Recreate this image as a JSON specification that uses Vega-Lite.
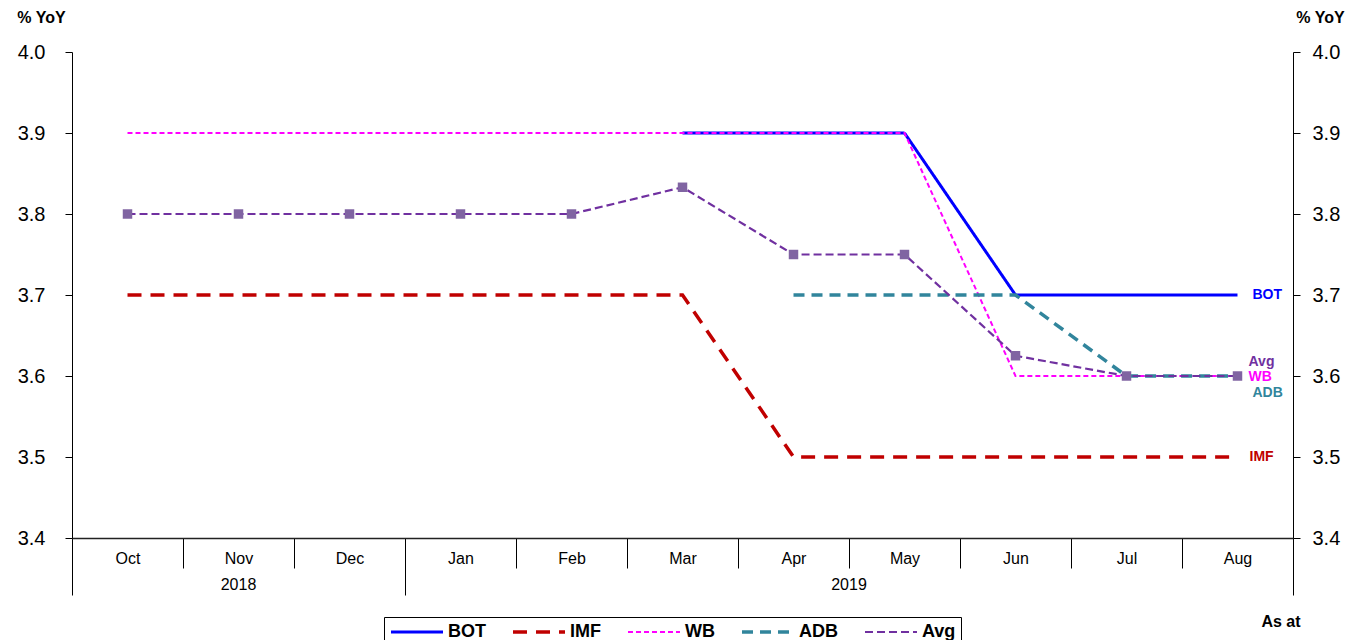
{
  "$schema": "https://vega.github.io/schema/vega-lite/v6.json",
  "autosize": {"type": "none"},
  "width": 1221,
  "height": 486,
  "padding": {"left": 72, "top": 52, "right": 72, "bottom": 102},
  "background": "white",
  "config": {"font": "Liberation Sans", "view": {"stroke": null}, "axis": {"grid": false}},
  "datasets": {
    "main": [
      {"series": "BOT", "month": "Mar", "value": 3.9},
      {"series": "BOT", "month": "Apr", "value": 3.9},
      {"series": "BOT", "month": "May", "value": 3.9},
      {"series": "BOT", "month": "Jun", "value": 3.7},
      {"series": "BOT", "month": "Jul", "value": 3.7},
      {"series": "BOT", "month": "Aug", "value": 3.7},
      {"series": "IMF", "month": "Oct", "value": 3.7},
      {"series": "IMF", "month": "Nov", "value": 3.7},
      {"series": "IMF", "month": "Dec", "value": 3.7},
      {"series": "IMF", "month": "Jan", "value": 3.7},
      {"series": "IMF", "month": "Feb", "value": 3.7},
      {"series": "IMF", "month": "Mar", "value": 3.7},
      {"series": "IMF", "month": "Apr", "value": 3.5},
      {"series": "IMF", "month": "May", "value": 3.5},
      {"series": "IMF", "month": "Jun", "value": 3.5},
      {"series": "IMF", "month": "Jul", "value": 3.5},
      {"series": "IMF", "month": "Aug", "value": 3.5},
      {"series": "WB", "month": "Oct", "value": 3.9},
      {"series": "WB", "month": "Nov", "value": 3.9},
      {"series": "WB", "month": "Dec", "value": 3.9},
      {"series": "WB", "month": "Jan", "value": 3.9},
      {"series": "WB", "month": "Feb", "value": 3.9},
      {"series": "WB", "month": "Mar", "value": 3.9},
      {"series": "WB", "month": "Apr", "value": 3.9},
      {"series": "WB", "month": "May", "value": 3.9},
      {"series": "WB", "month": "Jun", "value": 3.6},
      {"series": "WB", "month": "Jul", "value": 3.6},
      {"series": "WB", "month": "Aug", "value": 3.6},
      {"series": "ADB", "month": "Apr", "value": 3.7},
      {"series": "ADB", "month": "May", "value": 3.7},
      {"series": "ADB", "month": "Jun", "value": 3.7},
      {"series": "ADB", "month": "Jul", "value": 3.6},
      {"series": "ADB", "month": "Aug", "value": 3.6},
      {"series": "Avg", "month": "Oct", "value": 3.8},
      {"series": "Avg", "month": "Nov", "value": 3.8},
      {"series": "Avg", "month": "Dec", "value": 3.8},
      {"series": "Avg", "month": "Jan", "value": 3.8},
      {"series": "Avg", "month": "Feb", "value": 3.8},
      {"series": "Avg", "month": "Mar", "value": 3.833},
      {"series": "Avg", "month": "Apr", "value": 3.75},
      {"series": "Avg", "month": "May", "value": 3.75},
      {"series": "Avg", "month": "Jun", "value": 3.625},
      {"series": "Avg", "month": "Jul", "value": 3.6},
      {"series": "Avg", "month": "Aug", "value": 3.6}
    ]
  },
  "layer": [
    {
      "layer": [
        {
          "data": {"name": "main"},
          "mark": {"type": "line", "strokeCap": "butt"},
          "encoding": {
            "x": {
              "field": "month", "type": "ordinal", "bandPosition": 0.5,
              "scale": {"type": "band", "domain": ["Oct","Nov","Dec","Jan","Feb","Mar","Apr","May","Jun","Jul","Aug"], "paddingInner": 0, "paddingOuter": 0},
              "axis": {
                "title": null,
                "tickBand": "extent",
                "tickSize": {"condition": {"test": "datum.extra || datum.value === 'Dec' || datum.value === 'Aug'", "value": 57}, "value": 30},
                "tickColor": "#000",
                "tickWidth": 1,
                "domainColor": "#222",
                "domainWidth": 1.5,
                "labelFontSize": 16,
                "labelColor": "#000",
                "labelPadding": {"condition": {"test": "datum.value === 'Dec' || datum.value === 'Aug'", "value": -45}, "value": -18},
                "labelAngle": 0
              }
            },
            "y": {
              "field": "value", "type": "quantitative",
              "scale": {"domain": [3.4, 4.0], "nice": false, "zero": false},
              "axis": {
                "values": [3.4, 3.5, 3.6, 3.7, 3.8, 3.9, 4.0],
                "format": ".1f",
                "tickSize": 7,
                "tickColor": "#000",
                "domainColor": "#000",
                "labelFontSize": 20,
                "labelColor": "#000",
                "labelPadding": 20,
                "title": "% YoY",
                "titleAngle": 0,
                "titleX": -31,
                "titleY": -35,
                "titleAlign": "center",
                "titleBaseline": "middle",
                "titleFontSize": 16,
                "titleFontWeight": "bold",
                "titleColor": "#000"
              }
            },
            "color": {
              "field": "series", "type": "nominal",
              "scale": {"domain": ["BOT","IMF","WB","ADB","Avg"], "range": ["#0000FF","#C00000","#FF00FF","#31859C","#7030A0"]},
              "legend": {
                "orient": "none",
                "legendX": 312,
                "legendY": 565,
                "direction": "horizontal",
                "columns": 5,
                "title": null,
                "symbolType": "stroke",
                "symbolSize": 2704,
                "symbolStrokeWidth": 3,
                "clipHeight": 20,
                "padding": 5,
                "strokeColor": "#000",
                "columnPadding": 25,
                "labelOffset": 3,
                "labelFontSize": 18,
                "labelFontWeight": "bold",
                "labelColor": "#000"
              }
            },
            "strokeDash": {
              "field": "series", "type": "nominal",
              "scale": {"domain": ["BOT","IMF","WB","ADB","Avg"], "range": [[1,0],[14,9],[5,3],[11,7],[8,4]]}
            },
            "strokeWidth": {
              "field": "series", "type": "nominal",
              "scale": {"type": "ordinal", "domain": ["BOT","IMF","WB","ADB","Avg"], "range": [3, 3.5, 2, 3.5, 2.2]},
              "legend": null
            }
          }
        },
        {
          "data": {"name": "main"},
          "transform": [{"filter": "datum.series === 'Avg'"}],
          "mark": {"type": "square", "filled": true, "size": 90, "color": "#8064A2", "opacity": 1},
          "encoding": {
            "x": {"field": "month", "type": "ordinal", "bandPosition": 0.5},
            "y": {"field": "value", "type": "quantitative"}
          }
        },
        {
          "data": {"name": "main"},
          "transform": [{"filter": "datum.series === 'BOT' && datum.month === 'Aug'"}],
          "mark": {"type": "text", "align": "left", "baseline": "middle", "dx": 15, "dy": 0, "fontSize": 14, "fontWeight": "bold"},
          "encoding": {
            "x": {"field": "month", "type": "ordinal", "bandPosition": 0.5},
            "y": {"field": "value", "type": "quantitative"},
            "text": {"field": "series"},
            "color": {"field": "series", "type": "nominal", "legend": null}
          }
        },
        {
          "data": {"name": "main"},
          "transform": [{"filter": "datum.series === 'IMF' && datum.month === 'Aug'"}],
          "mark": {"type": "text", "align": "left", "baseline": "middle", "dx": 12, "dy": 0, "fontSize": 14, "fontWeight": "bold"},
          "encoding": {
            "x": {"field": "month", "type": "ordinal", "bandPosition": 0.5},
            "y": {"field": "value", "type": "quantitative"},
            "text": {"field": "series"},
            "color": {"field": "series", "type": "nominal", "legend": null}
          }
        },
        {
          "data": {"name": "main"},
          "transform": [{"filter": "datum.series === 'Avg' && datum.month === 'Aug'"}],
          "mark": {"type": "text", "align": "left", "baseline": "middle", "dx": 11, "dy": -14, "fontSize": 14, "fontWeight": "bold"},
          "encoding": {
            "x": {"field": "month", "type": "ordinal", "bandPosition": 0.5},
            "y": {"field": "value", "type": "quantitative"},
            "text": {"field": "series"},
            "color": {"field": "series", "type": "nominal", "legend": null}
          }
        },
        {
          "data": {"name": "main"},
          "transform": [{"filter": "datum.series === 'WB' && datum.month === 'Aug'"}],
          "mark": {"type": "text", "align": "left", "baseline": "middle", "dx": 11, "dy": 1, "fontSize": 14, "fontWeight": "bold"},
          "encoding": {
            "x": {"field": "month", "type": "ordinal", "bandPosition": 0.5},
            "y": {"field": "value", "type": "quantitative"},
            "text": {"field": "series"},
            "color": {"field": "series", "type": "nominal", "legend": null}
          }
        },
        {
          "data": {"name": "main"},
          "transform": [{"filter": "datum.series === 'ADB' && datum.month === 'Aug'"}],
          "mark": {"type": "text", "align": "left", "baseline": "middle", "dx": 15, "dy": 17, "fontSize": 14, "fontWeight": "bold"},
          "encoding": {
            "x": {"field": "month", "type": "ordinal", "bandPosition": 0.5},
            "y": {"field": "value", "type": "quantitative"},
            "text": {"field": "series"},
            "color": {"field": "series", "type": "nominal", "legend": null}
          }
        },
        {
          "data": {"values": [{"year": "2018", "month": "Nov"}]},
          "mark": {"type": "text", "align": "center", "baseline": "middle", "dy": 47, "fontSize": 16, "color": "#000"},
          "encoding": {
            "x": {"field": "month", "type": "ordinal", "bandPosition": 0.5},
            "y": {"datum": 3.4, "type": "quantitative"},
            "text": {"field": "year"}
          }
        },
        {
          "data": {"values": [{"year": "2019", "month": "May"}]},
          "mark": {"type": "text", "align": "center", "baseline": "middle", "dy": 47, "fontSize": 16, "color": "#000"},
          "encoding": {
            "x": {"field": "month", "type": "ordinal", "bandPosition": 0},
            "y": {"datum": 3.4, "type": "quantitative"},
            "text": {"field": "year"}
          }
        },
        {
          "data": {"values": [{"note": "As at", "month": "Aug"}]},
          "mark": {"type": "text", "align": "center", "baseline": "middle", "dx": -12, "dy": 84, "fontSize": 16, "fontWeight": "bold", "color": "#000"},
          "encoding": {
            "x": {"field": "month", "type": "ordinal", "bandPosition": 1},
            "y": {"datum": 3.4, "type": "quantitative"},
            "text": {"field": "note"}
          }
        }
      ]
    },
    {
      "data": {"name": "main"},
      "mark": {"type": "point", "opacity": 0},
      "encoding": {
        "y": {
          "field": "value", "type": "quantitative",
          "scale": {"domain": [3.4, 4.0], "nice": false, "zero": false},
          "axis": {
            "orient": "right",
            "values": [3.4, 3.5, 3.6, 3.7, 3.8, 3.9, 4.0],
            "format": ".1f",
            "tickSize": 7,
            "tickColor": "#000",
            "domainColor": "#000",
            "labelFontSize": 20,
            "labelColor": "#000",
            "labelPadding": 12,
            "title": "% YoY",
            "titleAngle": 0,
            "titleX": 27,
            "titleY": -35,
            "titleAlign": "center",
            "titleBaseline": "middle",
            "titleFontSize": 16,
            "titleFontWeight": "bold",
            "titleColor": "#000"
          }
        }
      }
    }
  ],
  "resolve": {"scale": {"y": "independent"}, "axis": {"y": "independent"}}
}
